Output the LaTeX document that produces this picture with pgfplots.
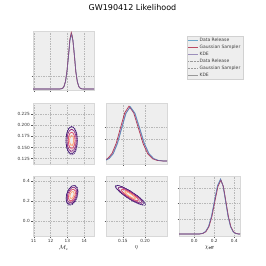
\documentclass[border=0pt]{standalone}
\usepackage{fontspec}
\setmainfont{DejaVu Sans}
\usepackage{pgfplots}
\pgfplotsset{compat=1.18}
\definecolor{bgc}{HTML}{EEEEEE}
\definecolor{gridc}{HTML}{B8B8B8}
\definecolor{framec}{HTML}{D8D8D8}
\definecolor{cblue}{HTML}{348ABD}
\definecolor{cred}{HTML}{A60628}
\definecolor{cpurp}{HTML}{7A68A6}
\definecolor{m1}{HTML}{3B0F70}
\definecolor{m2}{HTML}{8C2981}
\definecolor{m3}{HTML}{DE4968}
\definecolor{m4}{HTML}{FE9F6D}
\pgfplotsset{
 cornerax/.style={
  scale only axis, anchor=north west,
  axis background/.style={fill=bgc},
  axis line style={draw=framec, line width=0.6pt},
  grid=major, major grid style={draw=gridc, line width=0.55pt, dash pattern=on 3pt off 2pt},
  tick align=outside, tick pos=left,
  major tick length=3pt,
  tick style={draw=black!65, line width=0.6pt},
  xticklabels={}, yticklabels={},
  ticklabel style={font=\fontsize{8.5}{10}\selectfont, text=black!80},
  /pgf/number format/assume math mode=true,
  label style={font=\fontsize{12}{14}\selectfont},
 },
 mcx/.style={xmin=10.96, xmax=14.58, xtick={11,12,13,14}, width=122pt},
 etax/.style={xmin=0.1125, xmax=0.249, xtick={0.15,0.20}, width=122pt},
 chix/.style={xmin=-0.153, xmax=0.457, xtick={0.0,0.2,0.4}, width=122pt},
 oned/.style={line width=1.4pt, draw opacity=0.8},
 lv1/.style={m1, line width=1.1pt, smooth, tension=0.6},
 lv2/.style={m2, line width=1.1pt, smooth, tension=0.6},
 lv3/.style={m3, line width=1.1pt, smooth, tension=0.6},
 lv4/.style={m4, line width=1.1pt, smooth, tension=0.6},
 dv/.style={dash pattern=on 2.5pt off 1.5pt, line width=0.9pt},
}
\begin{document}
\begin{tikzpicture}
% ---------- row 0 : Mc 1D
\begin{axis}[cornerax, mcx, at={(0pt,0pt)}, height=118pt, ymin=-0.018, ymax=1.049, ytick={0.24}]
\addplot[oned, cblue] coordinates {(10.96,0) (12.3,0) (12.54,0.001) (12.63,0.003) (12.72,0.012) (12.80,0.044) (12.89,0.136) (12.98,0.326) (13.07,0.607) (13.15,0.88) (13.24,1.0) (13.33,0.882) (13.42,0.604) (13.50,0.323) (13.59,0.135) (13.68,0.044) (13.77,0.011) (13.85,0.003) (13.94,0.001) (14.2,0) (14.58,0)};
\addplot[oned, cred] coordinates {(10.96,0) (12.3,0) (12.54,0.001) (12.63,0.004) (12.72,0.014) (12.80,0.048) (12.89,0.14) (12.98,0.335) (13.07,0.62) (13.15,0.9) (13.23,1.02) (13.28,0.97) (13.33,0.87) (13.42,0.59) (13.50,0.31) (13.59,0.13) (13.68,0.042) (13.77,0.011) (13.85,0.003) (13.94,0.001) (14.2,0) (14.58,0)};
\addplot[oned, cpurp] coordinates {(10.96,0) (12.3,0) (12.54,0.001) (12.63,0.003) (12.72,0.013) (12.80,0.046) (12.89,0.137) (12.98,0.328) (13.07,0.605) (13.15,0.875) (13.24,0.99) (13.33,0.875) (13.42,0.605) (13.50,0.326) (13.59,0.137) (13.68,0.045) (13.77,0.012) (13.85,0.003) (13.94,0.001) (14.2,0) (14.58,0)};
\end{axis}
% ---------- row 1 : Mc vs eta
\begin{axis}[cornerax, mcx, at={(0pt,-144pt)}, height=122pt, ymin=0.113, ymax=0.2495,
  ytick={0.125,0.150,0.175,0.200,0.225}, yticklabels={0.125,0.150,0.175,0.200,0.225}]
\addplot[lv1] coordinates {(13.58,0.166) (13.536,0.181) (13.415,0.192) (13.25,0.196) (13.085,0.192) (12.964,0.181) (12.92,0.166) (12.964,0.151) (13.085,0.140) (13.25,0.136) (13.415,0.140) (13.536,0.151) (13.58,0.166)};
\addplot[lv2] coordinates {(13.521,0.166) (13.484,0.1783) (13.385,0.1873) (13.25,0.1906) (13.115,0.1873) (13.016,0.1783) (12.979,0.166) (13.016,0.1537) (13.115,0.1447) (13.25,0.1414) (13.385,0.1447) (13.484,0.1537) (13.521,0.166)};
\addplot[lv3] coordinates {(13.448,0.166) (13.4215,0.175) (13.349,0.1816) (13.25,0.184) (13.151,0.1816) (13.0785,0.175) (13.052,0.166) (13.0785,0.157) (13.151,0.1504) (13.25,0.148) (13.349,0.1504) (13.4215,0.157) (13.448,0.166)};
\addplot[lv4] coordinates {(13.369,0.166) (13.353,0.1714) (13.3095,0.1754) (13.25,0.1768) (13.1905,0.1754) (13.147,0.1714) (13.131,0.166) (13.147,0.1606) (13.1905,0.1566) (13.25,0.1552) (13.3095,0.1566) (13.353,0.1606) (13.369,0.166)};
\addplot[lv1, dv] coordinates {(13.61,0.165) (13.563,0.181) (13.435,0.1927) (13.26,0.197) (13.085,0.1927) (12.957,0.181) (12.91,0.165) (12.957,0.149) (13.085,0.1373) (13.26,0.133) (13.435,0.1373) (13.563,0.149) (13.61,0.165)};
\addplot[lv2, dv] coordinates {(13.547,0.165) (13.5085,0.178) (13.4035,0.1876) (13.26,0.1911) (13.1165,0.1876) (13.0115,0.178) (12.973,0.165) (13.0115,0.152) (13.1165,0.1424) (13.26,0.1389) (13.4035,0.1424) (13.5085,0.152) (13.547,0.165)};
\addplot[lv3, dv] coordinates {(13.474,0.165) (13.4453,0.1747) (13.367,0.1818) (13.26,0.1844) (13.153,0.1818) (13.0747,0.1747) (13.046,0.165) (13.0747,0.1553) (13.153,0.1482) (13.26,0.1456) (13.367,0.1482) (13.4453,0.1553) (13.474,0.165)};
\addplot[lv4, dv] coordinates {(13.388,0.165) (13.3708,0.1709) (13.324,0.1751) (13.26,0.1767) (13.196,0.1751) (13.1492,0.1709) (13.132,0.165) (13.1492,0.1592) (13.196,0.1549) (13.26,0.1533) (13.324,0.1549) (13.3708,0.1592) (13.388,0.165)};
\end{axis}
% ---------- row 1 : eta 1D
\begin{axis}[cornerax, etax, at={(146pt,-144pt)}, height=122pt, ymin=-0.055, ymax=1.068, ytick={0.405,0.62}]
\addplot[oned, cblue] coordinates {(0.1125,0.016) (0.120,0.047) (0.129,0.135) (0.1385,0.325) (0.148,0.607) (0.1575,0.88) (0.167,1.0) (0.1775,0.88) (0.188,0.607) (0.1985,0.325) (0.209,0.135) (0.2195,0.044) (0.230,0.011) (0.2405,0.002) (0.249,0)};
\addplot[oned, cred] coordinates {(0.1125,0.026) (0.117,0.052) (0.126,0.140) (0.1355,0.33) (0.145,0.615) (0.1545,0.89) (0.164,1.01) (0.1745,0.885) (0.185,0.605) (0.1955,0.32) (0.206,0.13) (0.2165,0.042) (0.227,0.011) (0.2375,0.002) (0.249,0)};
\addplot[oned, cpurp] coordinates {(0.1125,0.02) (0.119,0.05) (0.128,0.137) (0.1375,0.326) (0.147,0.607) (0.1565,0.878) (0.166,0.99) (0.1765,0.878) (0.187,0.607) (0.1975,0.326) (0.208,0.136) (0.2185,0.045) (0.229,0.012) (0.2395,0.002) (0.249,0)};
\end{axis}
% ---------- row 2 : Mc vs chi
\begin{axis}[cornerax, mcx, at={(0pt,-290pt)}, height=120pt, ymin=-0.150, ymax=0.447,
  xticklabels={11,12,13,14}, ytick={0.0,0.2,0.4}, yticklabels={0.0,0.2,0.4},
  xlabel={$\mathcal{M}_c$}, xlabel style={at={(axis description cs:0.5,-0.195)}, anchor=center}]
\addplot[lv1] coordinates {(13.61,0.2913) (13.5644,0.3313) (13.44,0.3517) (13.27,0.347) (13.10,0.3185) (12.9756,0.2737) (12.93,0.2247) (12.9756,0.1847) (13.10,0.1643) (13.27,0.169) (13.44,0.1975) (13.5644,0.2423) (13.61,0.2913)};
\addplot[lv2] coordinates {(13.5488,0.2853) (13.5114,0.3181) (13.4094,0.3348) (13.27,0.331) (13.1306,0.3076) (13.0286,0.2709) (12.9912,0.2307) (13.0286,0.1979) (13.1306,0.1812) (13.27,0.185) (13.4094,0.2084) (13.5114,0.2451) (13.5488,0.2853)};
\addplot[lv3] coordinates {(13.474,0.278) (13.4467,0.302) (13.372,0.3142) (13.27,0.3114) (13.168,0.2943) (13.0933,0.2674) (13.066,0.2381) (13.0933,0.214) (13.168,0.2018) (13.27,0.2046) (13.372,0.2217) (13.4467,0.2486) (13.474,0.278)};
\addplot[lv4] coordinates {(13.3924,0.27) (13.376,0.2844) (13.3312,0.2917) (13.27,0.2901) (13.2088,0.2798) (13.164,0.2637) (13.1476,0.246) (13.164,0.2316) (13.2088,0.2243) (13.27,0.2259) (13.3312,0.2362) (13.376,0.2523) (13.3924,0.27)};
\addplot[lv1, dv] coordinates {(13.6404,0.2903) (13.5921,0.3327) (13.4602,0.3543) (13.28,0.3494) (13.0998,0.3191) (12.9679,0.2717) (12.9196,0.2198) (12.9679,0.1773) (13.0998,0.1557) (13.28,0.1606) (13.4602,0.1909) (13.5921,0.2383) (13.6404,0.2903)};
\addplot[lv2, dv] coordinates {(13.5756,0.2839) (13.536,0.3187) (13.4278,0.3365) (13.28,0.3324) (13.1322,0.3076) (13.024,0.2687) (12.9844,0.2261) (13.024,0.1913) (13.1322,0.1735) (13.28,0.1776) (13.4278,0.2024) (13.536,0.2413) (13.5756,0.2839)};
\addplot[lv3, dv] coordinates {(13.5003,0.2766) (13.4708,0.3025) (13.3902,0.3158) (13.28,0.3127) (13.1698,0.2942) (13.0892,0.2652) (13.0597,0.2334) (13.0892,0.2075) (13.1698,0.1942) (13.28,0.1973) (13.3902,0.2158) (13.4708,0.2448) (13.5003,0.2766)};
\addplot[lv4, dv] coordinates {(13.4122,0.268) (13.3945,0.2836) (13.3461,0.2915) (13.28,0.2897) (13.2139,0.2786) (13.1655,0.2611) (13.1478,0.2421) (13.1655,0.2265) (13.2139,0.2185) (13.28,0.2203) (13.3461,0.2315) (13.3945,0.2489) (13.4122,0.268)};
\end{axis}
% ---------- row 2 : eta vs chi
\begin{axis}[cornerax, etax, at={(146pt,-290pt)}, height=120pt, ymin=-0.150, ymax=0.447,
  xticklabels={0.15,0.20}, ytick={0.0,0.2,0.4},
  xlabel={$\eta$}, xlabel style={at={(axis description cs:0.5,-0.195)}, anchor=center}]
\addplot[lv1] coordinates {(0.166,0.2994) (0.15,0.3366) (0.13829,0.3528) (0.134,0.3435) (0.13829,0.3113) (0.15,0.2649) (0.166,0.2166) (0.182,0.1794) (0.19371,0.1633) (0.198,0.1725) (0.19371,0.2047) (0.182,0.2511) (0.166,0.2994)};
\addplot[lv2] coordinates {(0.166,0.292) (0.15288,0.3225) (0.14328,0.3357) (0.13976,0.3281) (0.14328,0.3017) (0.15288,0.2636) (0.166,0.224) (0.17912,0.1935) (0.18872,0.1803) (0.19224,0.1879) (0.18872,0.2143) (0.17912,0.2524) (0.166,0.292)};
\addplot[lv3] coordinates {(0.166,0.2829) (0.1564,0.3052) (0.14937,0.3149) (0.1468,0.3093) (0.14937,0.29) (0.1564,0.2621) (0.166,0.2332) (0.1756,0.2108) (0.18263,0.2012) (0.1852,0.2067) (0.18263,0.226) (0.1756,0.2539) (0.166,0.2829)};
\addplot[lv4] coordinates {(0.166,0.2729) (0.16024,0.2863) (0.15602,0.2921) (0.15448,0.2888) (0.15602,0.2772) (0.16024,0.2605) (0.166,0.2431) (0.17176,0.2297) (0.17598,0.2239) (0.17752,0.2272) (0.17598,0.2388) (0.17176,0.2555) (0.166,0.2729)};
\addplot[lv1, dv] coordinates {(0.167,0.2989) (0.15004,0.3383) (0.13763,0.3554) (0.13308,0.3456) (0.13763,0.3115) (0.15004,0.2623) (0.167,0.2111) (0.18396,0.1717) (0.19637,0.1546) (0.20092,0.1644) (0.19637,0.1985) (0.18396,0.2477) (0.167,0.2989)};
\addplot[lv2, dv] coordinates {(0.167,0.291) (0.1531,0.3233) (0.14292,0.3374) (0.13919,0.3293) (0.14292,0.3014) (0.1531,0.261) (0.167,0.219) (0.1809,0.1867) (0.19108,0.1727) (0.19481,0.1807) (0.19108,0.2087) (0.1809,0.249) (0.167,0.291)};
\addplot[lv3, dv] coordinates {(0.167,0.2818) (0.15663,0.306) (0.14904,0.3164) (0.14626,0.3104) (0.14904,0.2896) (0.15663,0.2595) (0.167,0.2282) (0.17737,0.2041) (0.18496,0.1936) (0.18774,0.1996) (0.18496,0.2204) (0.17737,0.2505) (0.167,0.2818)};
\addplot[lv4, dv] coordinates {(0.167,0.2711) (0.16077,0.2856) (0.15622,0.2919) (0.15455,0.2883) (0.15622,0.2758) (0.16077,0.2577) (0.167,0.2389) (0.17323,0.2244) (0.17778,0.2181) (0.17945,0.2217) (0.17778,0.2343) (0.17323,0.2523) (0.167,0.2711)};
\end{axis}
% ---------- row 2 : chi 1D
\begin{axis}[cornerax, chix, at={(292pt,-290pt)}, height=120pt, ymin=-0.036, ymax=1.055,
  xticklabels={0.0,0.2,0.4}, ytick={0.278,0.558,0.836},
  xlabel={$\chi_{\rm eff}$}, xlabel style={at={(axis description cs:0.5,-0.195)}, anchor=center}]
\addplot[oned, cblue] coordinates {(-0.153,0) (0.0,0.0) (0.02,0.0003) (0.052,0.002) (0.082,0.011) (0.112,0.044) (0.142,0.135) (0.172,0.325) (0.202,0.607) (0.232,0.88) (0.262,1.0) (0.287,0.88) (0.312,0.607) (0.337,0.325) (0.362,0.135) (0.387,0.044) (0.412,0.011) (0.437,0.002) (0.457,0.0005)};
\addplot[oned, cred] coordinates {(-0.153,0) (0.0,0.0) (0.025,0.0003) (0.056,0.002) (0.086,0.011) (0.116,0.043) (0.146,0.132) (0.176,0.318) (0.206,0.595) (0.236,0.862) (0.266,0.98) (0.291,0.862) (0.316,0.595) (0.341,0.318) (0.366,0.132) (0.391,0.043) (0.416,0.011) (0.441,0.002) (0.457,0.0008)};
\addplot[oned, cpurp] coordinates {(-0.153,0) (0.0,0.0) (0.022,0.0003) (0.053,0.002) (0.083,0.011) (0.113,0.044) (0.143,0.134) (0.173,0.322) (0.203,0.602) (0.233,0.872) (0.263,0.99) (0.288,0.872) (0.313,0.602) (0.338,0.322) (0.363,0.134) (0.388,0.044) (0.413,0.011) (0.438,0.002) (0.457,0.0006)};
\end{axis}
% ---------- legend
\begin{axis}[at={(307pt,-10pt)}, anchor=north west, scale only axis, width=110pt, height=80pt,
  hide axis, xmin=0, xmax=1, ymin=0, ymax=1, legend cell align=left,
  legend style={at={(0,1)}, anchor=north west, draw=black!18, fill=bgc, font=\fontsize{9}{10}\selectfont, text=black!75, inner sep=2.5pt, row sep=1.6pt},
  legend image code/.code={\draw[#1] (0pt,0pt) -- (20pt,0pt);}]
\addlegendimage{cblue, line width=1.4pt, draw opacity=0.7}
\addlegendentry{Data Release}
\addlegendimage{cred, line width=1.4pt, draw opacity=0.7}
\addlegendentry{Gaussian Sampler}
\addlegendimage{cpurp, line width=1.4pt, draw opacity=0.7}
\addlegendentry{KDE}
\addlegendimage{black!40, line width=1.2pt, dash pattern=on 1.2pt off 1.6pt}
\addlegendentry{Data Release}
\addlegendimage{black!40, line width=1.2pt, dash pattern=on 4pt off 2pt}
\addlegendentry{Gaussian Sampler}
\addlegendimage{black!40, line width=1.2pt}
\addlegendentry{KDE}
\end{axis}
\node[anchor=base, font=\fontsize{16}{19}\selectfont] at (199pt,40pt) {GW190412 Likelihood};
\pgfresetboundingbox
\path[use as bounding box] (-66pt,-470pt) rectangle (466pt,62pt);
\end{tikzpicture}
\end{document}
